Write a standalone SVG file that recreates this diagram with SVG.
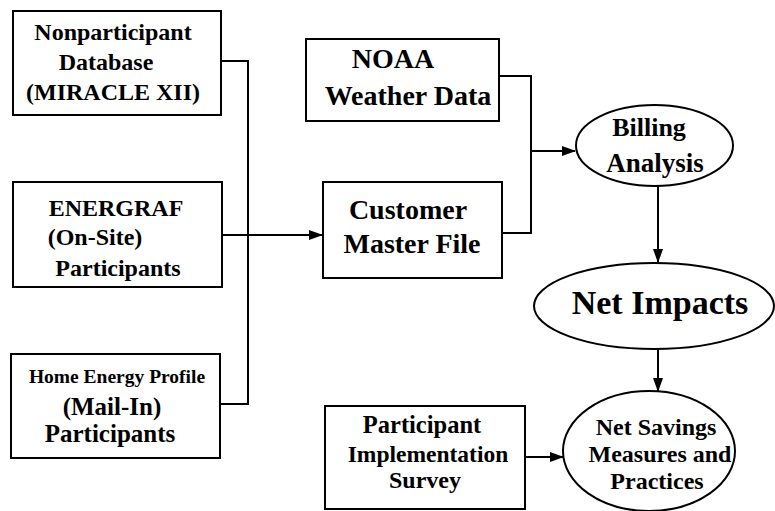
<svg xmlns="http://www.w3.org/2000/svg" width="775" height="511" viewBox="0 0 775 511">
<style>
.box{fill:#fff;stroke:#000;stroke-width:2}
.ell{fill:#fff;stroke:#000;stroke-width:2}
.t{font-family:"Liberation Serif","Times New Roman",serif;font-weight:bold;fill:#000;text-anchor:middle}
.c{fill:none;stroke:#000;stroke-width:2}
</style>
<defs>
<marker id="ah" markerWidth="14" markerHeight="12" refX="13" refY="6" orient="auto" markerUnits="userSpaceOnUse">
<path d="M0,1 L14,6 L0,11 Z" fill="#000"/>
</marker>
</defs>
<rect width="775" height="511" fill="#fff"/>
<g id="connectors">
<polyline class="c" points="221,61 248,61 248,404 220,404"/>
<line class="c" x1="222" y1="235" x2="322" y2="235" marker-end="url(#ah)"/>
<polyline class="c" points="499,76 531,76 531,233 502,233"/>
<line class="c" x1="531" y1="151" x2="575" y2="151" marker-end="url(#ah)"/>
<line class="c" x1="658" y1="186" x2="658" y2="262" marker-end="url(#ah)"/>
<line class="c" x1="658" y1="349" x2="658" y2="391" marker-end="url(#ah)"/>
<line class="c" x1="525" y1="457" x2="563" y2="457" marker-end="url(#ah)"/>
</g>
<g id="nonparticipant">
<rect class="box" x="13" y="11" width="208" height="104"/>
<text class="t" font-size="24" x="113" y="40">Nonparticipant</text>
<text class="t" font-size="24" x="106" y="70">Database</text>
<text class="t" font-size="24" x="113" y="100">(MIRACLE XII)</text>
</g>
<g id="energraf">
<rect class="box" x="13" y="182" width="209" height="105"/>
<text class="t" font-size="24" x="116" y="216">ENERGRAF</text>
<text class="t" font-size="24" x="95" y="245">(On-Site)</text>
<text class="t" font-size="24" x="118" y="276">Participants</text>
</g>
<g id="homeenergy">
<rect class="box" x="11" y="354" width="209" height="104"/>
<text class="t" font-size="19.5" x="117" y="383">Home Energy Profile</text>
<text class="t" font-size="25" x="112" y="415">(Mail-In)</text>
<text class="t" font-size="25" x="110" y="442">Participants</text>
</g>
<g id="noaa">
<rect class="box" x="306" y="39" width="193" height="82"/>
<text class="t" font-size="28" x="393" y="68">NOAA</text>
<text class="t" font-size="28" x="408" y="105">Weather Data</text>
</g>
<g id="customer">
<rect class="box" x="323" y="182" width="179" height="96"/>
<text class="t" font-size="28" x="408" y="219">Customer</text>
<text class="t" font-size="28" x="412" y="253">Master File</text>
</g>
<g id="billing">
<ellipse class="ell" cx="654.5" cy="145.5" rx="78.5" ry="40.5"/>
<text class="t" font-size="26" x="649" y="136">Billing</text>
<text class="t" font-size="27" x="655" y="172">Analysis</text>
</g>
<g id="netimpacts">
<ellipse class="ell" cx="654" cy="306" rx="120" ry="43"/>
<text class="t" font-size="34" x="660" y="314">Net Impacts</text>
</g>
<g id="survey">
<rect class="box" x="325" y="406" width="200" height="103"/>
<text class="t" font-size="24.5" x="422" y="433">Participant</text>
<text class="t" font-size="23.5" x="428" y="462">Implementation</text>
<text class="t" font-size="24" x="425" y="488">Survey</text>
</g>
<g id="netsavings">
<ellipse class="ell" cx="649" cy="451" rx="86" ry="60"/>
<text class="t" font-size="24" x="656" y="435">Net Savings</text>
<text class="t" font-size="24" x="660" y="462">Measures and</text>
<text class="t" font-size="24" x="657" y="489">Practices</text>
</g>
</svg>
